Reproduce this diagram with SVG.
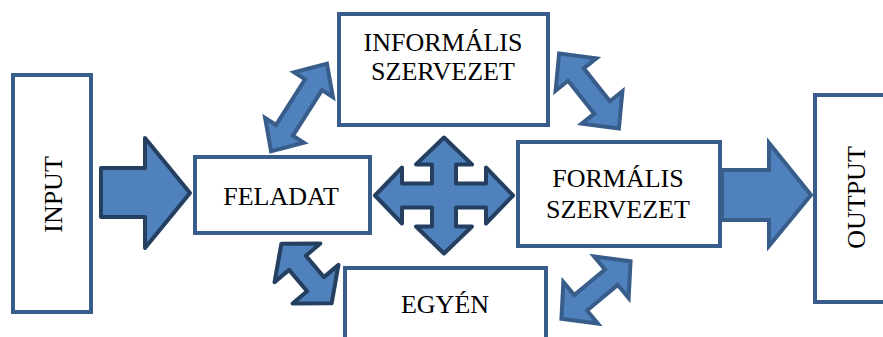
<svg xmlns="http://www.w3.org/2000/svg" width="883" height="337" viewBox="0 0 883 337">
<style>
.box{fill:#ffffff;stroke:#385d8a;stroke-width:4}
.lbl{font-family:"Liberation Serif","Times New Roman",serif;font-size:26px;fill:#000000;text-anchor:middle}
.arr{fill:#4f81bd;stroke:#385d8a;stroke-width:4;stroke-linejoin:miter}
.arrd{fill:#4f81bd;stroke:#243f60;stroke-width:4;stroke-linejoin:round}
</style>
<rect width="883" height="337" fill="#ffffff"/>
<g id="connectors">
<polygon class="arrd" points="101,168 145,168 145,138 190,193 145,248 145,217 101,217"/>
<polygon class="arr" points="722,170 769,170 769,143 811,195 769,246 769,220 722,220"/>
<polygon class="arrd" points="444,137.5 472,164.5 456,164.5 456,183.5 486,183.5 486,167.5 513,195.5 486,223.5 486,207.5 456,207.5 456,226.5 472,226.5 444,253.5 416,226.5 432,226.5 432,207.5 402,207.5 402,223.5 375,195.5 402,167.5 402,183.5 432,183.5 432,164.5 416,164.5"/>
<path class="arr" transform="translate(299,107.5) rotate(-57.5)" d="M-52,0 L-27,-23 L-27,-10 L27,-10 L27,-23 L52,0 L27,23 L27,10 L-27,10 L-27,23 Z"/>
<path class="arr" transform="translate(589,91) rotate(51.5)" d="M-48,0 L-21,-26 L-21,-10 L21,-10 L21,-26 L48,0 L21,26 L21,10 L-21,10 L-21,26 Z"/>
<path class="arrd" transform="translate(306.5,273.5) rotate(49.9)" d="M-39,0 L-14,-30 L-14,-11 L14,-11 L14,-30 L39,0 L14,30 L14,11 L-14,11 L-14,30 Z"/>
<path class="arr" transform="translate(596,290) rotate(-39.8)" d="M-45,0 L-20,-27 L-20,-10 L20,-10 L20,-27 L45,0 L20,27 L20,10 L-20,10 L-20,27 Z"/>
</g>
<g id="input">
<rect class="box" x="13" y="75" width="78" height="237"/>
<text class="lbl" transform="translate(62,194.5) rotate(-90)">INPUT</text>
</g>
<g id="feladat">
<rect class="box" x="195" y="157" width="175" height="76"/>
<text class="lbl" x="281" y="205">FELADAT</text>
</g>
<g id="informalis">
<rect class="box" x="339" y="14" width="209" height="111"/>
<text class="lbl" x="443" y="51">INFORMÁLIS</text>
<text class="lbl" x="443" y="80">SZERVEZET</text>
</g>
<g id="formalis">
<rect class="box" x="518" y="142" width="202" height="104"/>
<text class="lbl" x="618" y="187">FORMÁLIS</text>
<text class="lbl" x="618" y="218">SZERVEZET</text>
</g>
<g id="egyen">
<rect class="box" x="345" y="268" width="201" height="80"/>
<text class="lbl" x="445" y="313">EGYÉN</text>
</g>
<g id="output">
<rect class="box" x="815" y="95" width="70" height="207"/>
<text class="lbl" transform="translate(865,197.5) rotate(-90)">OUTPUT</text>
</g>
</svg>
